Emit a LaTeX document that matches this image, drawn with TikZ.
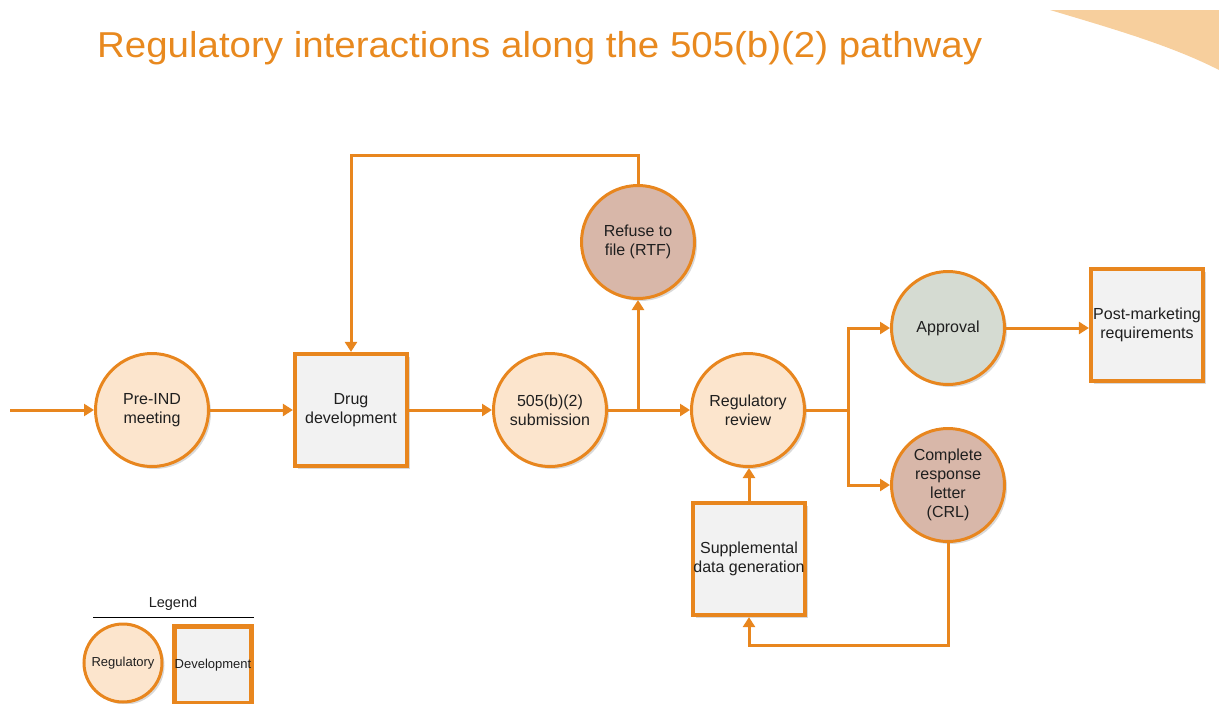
\documentclass[tikz,border=0pt]{standalone}
\usepackage{fontspec}
\setmainfont{Liberation Sans}
\usetikzlibrary{arrows.meta,shadows}
\definecolor{org}{HTML}{E8861E}
\definecolor{titlec}{HTML}{E8891F}
\definecolor{regfill}{HTML}{FCE5CD}
\definecolor{rejfill}{HTML}{D8B7A9}
\definecolor{appfill}{HTML}{D5DBD2}
\definecolor{boxfill}{HTML}{F2F2F2}
\definecolor{wedgec}{HTML}{F7CF9D}
\definecolor{txt}{HTML}{1F1F1F}
\begin{document}
\begin{tikzpicture}[x=1pt,y=-1pt,
  conn/.style={draw=org, line width=3pt, -{Triangle[width=12pt,length=10pt]}},
  plain/.style={draw=org, line width=3pt},
  shad/.style={drop shadow={shadow xshift=2.5pt, shadow yshift=-2.5pt, opacity=0.3, fill=gray}},
  nfont/.style={font=\fontsize{16}{19}\selectfont, text=txt},
  reg/.style={circle, draw=org, line width=3pt, fill=regfill, minimum size=113pt, inner sep=0pt, align=center, nfont, shad},
  rej/.style={reg, fill=rejfill},
  appr/.style={reg, fill=appfill},
  dev/.style={rectangle, draw=org, line width=4.2pt, fill=boxfill, minimum size=112pt, inner sep=0pt, align=center, nfont, shad},
  lfont/.style={font=\fontsize{13}{15}\selectfont, text=txt}
]
\useasboundingbox (0,0) rectangle (1219,704);

% corner wedge
\fill[wedgec] (1050,10) .. controls (1110,28) and (1170,45) .. (1219,70) -- (1219,10) -- cycle;

% title
\node[anchor=base west, text=titlec, inner sep=0pt] (title) at (97,57)
  {\fontsize{36}{40}\selectfont\resizebox{885pt}{\height}{Regulatory interactions along the 505(b)(2) pathway}};

% nodes
\node[reg]  (preind) at (152,410) {Pre-IND\\meeting};
\node[dev]  (drug)   at (351,410) {Drug\\development};
\node[reg]  (sub)    at (550,410) {505(b)(2)\\submission};
\node[rej]  (rtf)    at (638,242) {Refuse to\\file (RTF)};
\node[reg]  (rev)    at (748,410) {Regulatory\\review};
\node[appr] (app)    at (948,328) {Approval};
\node[rej]  (crl)    at (948,485) {Complete\\response\\letter\\(CRL)};
\node[dev]  (pm)     at (1147,325) {Post-marketing\\requirements};
\node[dev]  (sup)    at (749,559) {Supplemental\\data generation};

% helper coordinates
\coordinate (start) at (10,410);
\coordinate (j1) at (638,410);
\coordinate (fb) at (351,155);
\coordinate (j2) at (848,410);
\coordinate (bot) at (749,645);

% connectors
\draw[conn] (start) -- (preind);
\draw[conn] (preind) -- (drug);
\draw[conn] (drug) -- (sub);
\draw[conn] (sub) -- (rev);
\draw[conn] (j1) -- (rtf);
\draw[conn] (rtf.north) |- (fb) -- (drug.north);
\draw[plain] (rev) -- (j2);
\draw[conn] (j2) |- (app);
\draw[conn] (j2) |- (crl);
\draw[conn] (app.east) -- (app.east -| pm.west);
\draw[conn] (crl.south) |- (bot) -- (sup.south);
\draw[conn] (sup.north) -- (sup.north |- rev.south);

% legend
\node[font=\fontsize{14.5}{17}\selectfont, text=txt] (legt) at (173,604) {Legend};
\coordinate (la) at (93,617);
\coordinate (lb) at (254,617);
\draw[black, line width=0.8pt] (la) -- (lb);
\node[reg, minimum size=78pt, lfont] (lreg) at (123,663) {Regulatory};
\node[dev, minimum size=77pt, lfont] (ldev) at (213,665) {Development};
\end{tikzpicture}
\end{document}
